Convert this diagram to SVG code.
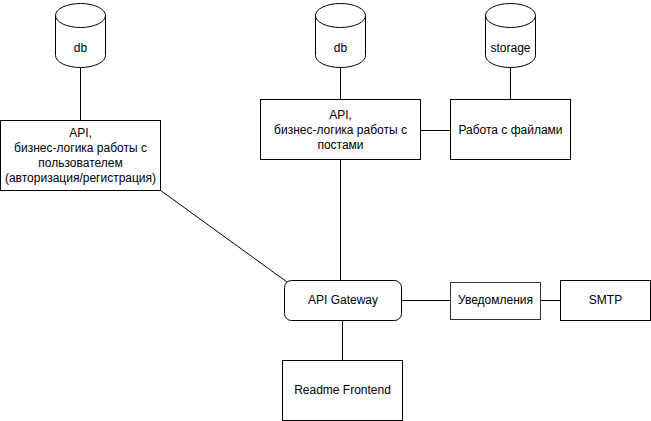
<svg xmlns="http://www.w3.org/2000/svg" width="651" height="421" viewBox="0 0 651 421">
<style>
.s{fill:#fff;stroke:#000;stroke-width:1}
.c{fill:none;stroke:#000;stroke-width:1}
text{font-family:"Liberation Sans",Arial,Helvetica,sans-serif;font-size:12px;fill:#000;text-anchor:middle}
</style>
<defs>
<g id="cyl">
<path class="s" d="M0,12 a25,12 0 0,1 50,0 v40 a25,12 0 0,1 -50,0 z"/>
<path class="c" d="M0,12 a25,12 0 0,0 50,0"/>
</g>
</defs>
<rect width="651" height="421" fill="#fff"/>
<g id="connectors" class="c">
<line x1="80.5" y1="67" x2="80.5" y2="120"/>
<line x1="340.5" y1="67" x2="340.5" y2="99"/>
<line x1="510.5" y1="67" x2="510.5" y2="99"/>
<line x1="420" y1="130.5" x2="450" y2="130.5"/>
<line x1="340.5" y1="160" x2="340.5" y2="280"/>
<line x1="160" y1="190" x2="287" y2="282"/>
<line x1="401" y1="300.5" x2="450" y2="300.5"/>
<line x1="540" y1="300.5" x2="560" y2="300.5"/>
<line x1="342.5" y1="320" x2="342.5" y2="360"/>
</g>
<g id="db1"><use href="#cyl" x="55.5" y="3.5"/><text x="80.5" y="52">db</text></g>
<g id="db2"><use href="#cyl" x="315.5" y="3.5"/><text x="340.5" y="52">db</text></g>
<g id="storage"><use href="#cyl" x="485.5" y="3.5"/><text x="510.5" y="52">storage</text></g>
<g id="users">
<rect class="s" x="0.5" y="120.5" width="160" height="70"/>
<text x="80.5" y="137">API,</text>
<text x="80.5" y="152">бизнес-логика работы с</text>
<text x="80.5" y="167">пользователем</text>
<text x="80.5" y="182">(авторизация/регистрация)</text>
</g>
<g id="posts">
<rect class="s" x="260.5" y="99.5" width="160" height="60"/>
<text x="340.5" y="119">API,</text>
<text x="340.5" y="134">бизнес-логика работы с</text>
<text x="340.5" y="149">постами</text>
</g>
<g id="files">
<rect class="s" x="450.5" y="99.5" width="120" height="60"/>
<text x="510.5" y="134">Работа с файлами</text>
</g>
<g id="gateway">
<rect class="s" x="284.5" y="280.5" width="117" height="40" rx="7" ry="7"/>
<text x="343" y="304">API Gateway</text>
</g>
<g id="notify">
<rect class="s" x="450.5" y="282.5" width="90" height="37" style="stroke:#333"/>
<text x="495.5" y="304">Уведомления</text>
</g>
<g id="smtp">
<rect class="s" x="560.5" y="280.5" width="90" height="40"/>
<text x="605.5" y="304">SMTP</text>
</g>
<g id="frontend">
<rect class="s" x="282.5" y="360.5" width="120" height="60"/>
<text x="342.5" y="394">Readme Frontend</text>
</g>
</svg>
